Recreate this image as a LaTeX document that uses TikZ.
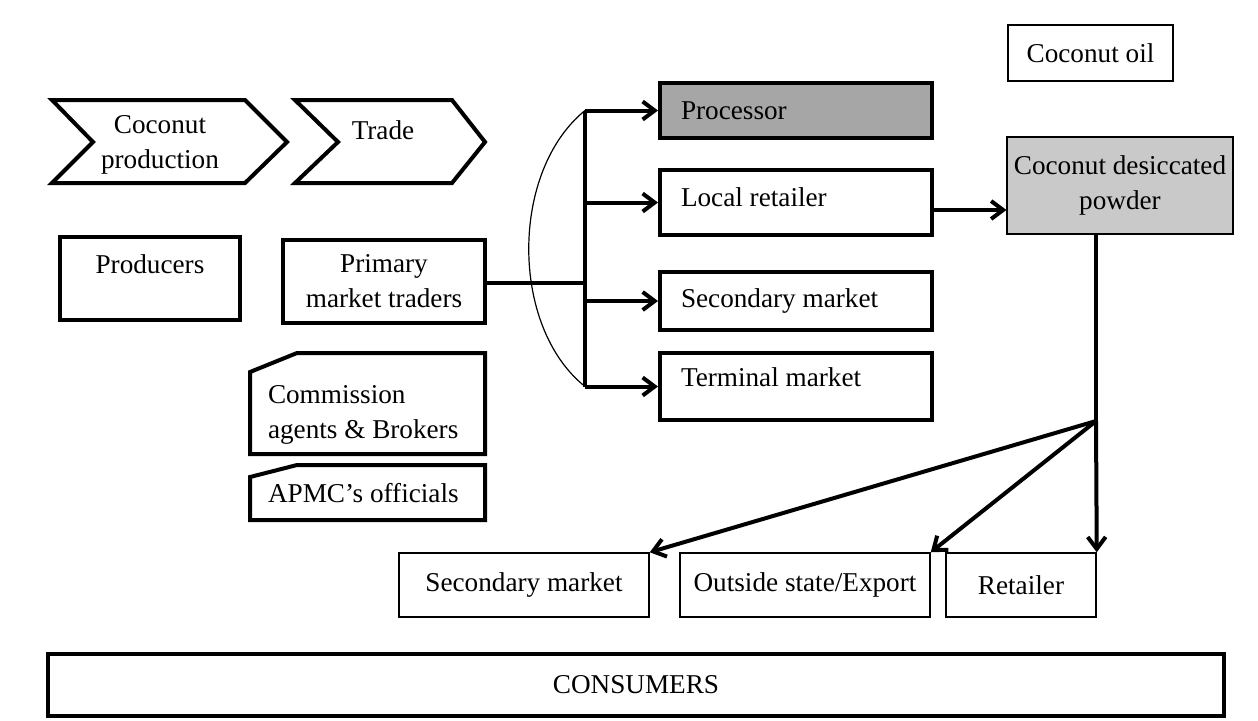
\documentclass[tikz,border=0pt]{standalone}
\usepackage{fontspec}
\setmainfont{Liberation Serif}
\usetikzlibrary{arrows.meta,positioning}

\definecolor{procgray}{HTML}{A6A6A6}
\definecolor{powdergray}{HTML}{C9C9C9}

\tikzset{
  link/.style={line width=2pt},
  flow/.style={line width=2pt, -{Straight Barb[length=6pt,width=9pt]}},
  boxline/.style={draw, line width=2pt},
  thinbox/.style={draw, line width=0.75pt},
  stage/.style={boxline, text width=115pt, inner xsep=10.5pt, align=flush left},
  outlet/.style={thinbox, minimum height=32pt, align=center},
}

\begin{document}
\begin{tikzpicture}[x=0.5pt, y=-0.5pt, font=\fontsize{13.6}{17.5}\selectfont]
  \useasboundingbox (0,0) rectangle (1258,720);

  % chevrons
  \draw[link] (52,100) -- (245,100) -- (287,142) -- (245,183) -- (52,183) -- (93,142) -- cycle;
  \draw[link] (295,100) -- (452,100) -- (485,142) -- (452,183) -- (295,183) -- (338,142) -- cycle;
  \node[align=center] (prodtxt) at (160,145) {Coconut\\production};
  \node (tradetxt) at (383,130) {Trade};

  % actors
  \node[boxline, minimum width=90pt, minimum height=41.5pt, text depth=14pt] (producers) at (150,278.5) {Producers};
  \node[boxline, minimum width=101pt, minimum height=41.5pt, align=center] (primary) at (384,281) {Primary\\market traders};

  \draw[link] (250,372) -- (297,353) -- (485,353) -- (485,454) -- (250,454) -- cycle;
  \node[text width=99.5pt, align=flush left] (agents) at (367.5,415) {Commission\\agents \& Brokers};
  \draw[link] (250,477) -- (297,465) -- (485,465) -- (485,520) -- (250,520) -- cycle;
  \node[text width=99.5pt, align=flush left] (apmc) at (367.5,493) {APMC’s officials};

  % markets
  \node[stage, fill=procgray, minimum height=27.5pt] (proc) at (796,110.5) {Processor};
  \node[stage, minimum height=32.5pt, text depth=5pt] (local) at (796,202.5) {Local retailer};
  \node[stage, minimum height=29pt] (secm) at (796,301) {Secondary market};
  \node[stage, minimum height=33.5pt, text depth=9pt] (term) at (796,386.5) {Terminal market};

  \coordinate (fork) at (585,283);
  \draw[link] (primary.east |- fork) -- (fork);
  \draw[link] (fork |- proc.west) -- (fork |- term.west);
  \foreach \m in {proc,local,secm,term}
    \draw[flow] (fork |- \m.west) -- (\m.west);
  \draw[line width=0.6pt] (fork |- proc.west) .. controls +(-75,61) and +(-75,-60) .. (fork |- term.west);

  % products
  \node[thinbox, minimum width=82.5pt, minimum height=28pt] (oil) at (1090.5,53) {Coconut oil};
  \node[thinbox, fill=powdergray, minimum width=112pt, minimum height=48.5pt, align=center] (powder) at (1120,185.5) {Coconut desiccated\\powder};
  \coordinate (lr) at ([yshift=-3.75pt]local.east);
  \draw[flow] (lr) -- (lr -| powder.west);

  % outlets
  \node[outlet, minimum width=125pt] (secout) at (524,585) {Secondary market};
  \node[outlet, minimum width=125pt] (export) at (805,585) {Outside state/Export};
  \node[outlet, minimum width=75pt] (retail) at (1021,585) {Retailer};

  \coordinate (split) at (1096,421);
  \draw[link] (powder.south -| split) -- (split);
  \draw[flow] (split) -- (retail.north east);
  \draw[flow] (split) -- (export.north east);
  \draw[flow] (split) -- (secout.north east);

  % consumers
  \node[boxline, minimum width=588pt, minimum height=31pt] (cons) at (636,685) {CONSUMERS};
\end{tikzpicture}
\end{document}
